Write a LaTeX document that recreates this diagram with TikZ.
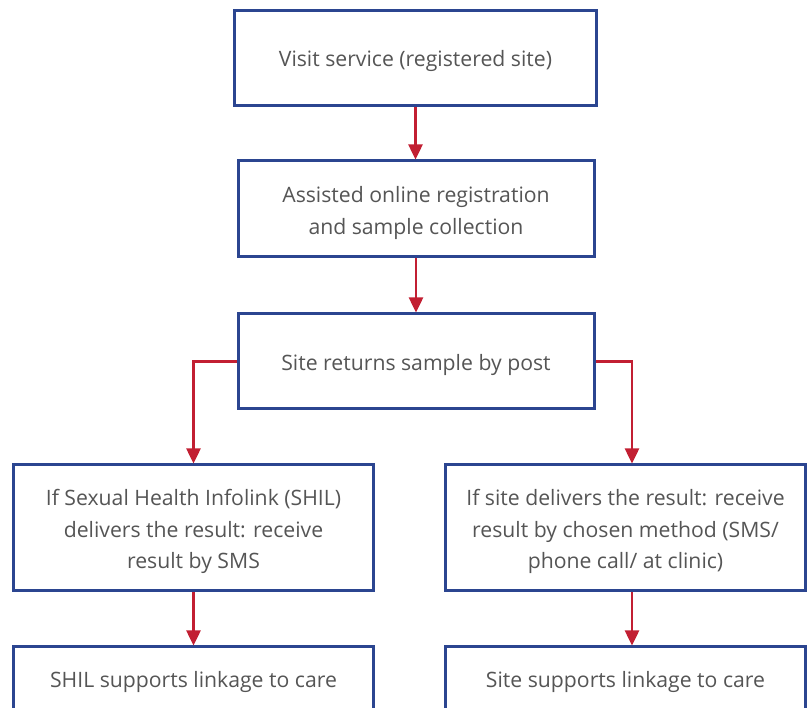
\documentclass[tikz,border=0pt]{standalone}
\usepackage{fontspec}
\setmainfont{Open Sans}
\usetikzlibrary{arrows.meta}
\definecolor{boxblue}{HTML}{2B4590}
\definecolor{arrred}{HTML}{C21F32}
\definecolor{txt}{HTML}{555555}
\begin{document}
\begin{tikzpicture}[x=1pt,y=-1pt,
  box/.style={draw=boxblue,line width=3pt,fill=white,inner sep=0pt},
  lbl/.style={text=txt,align=center,inner sep=0pt,font=\fontsize{21.2}{31.5}\selectfont},
  flow/.style={draw=arrred,line width=2.5pt,-{Triangle[length=15pt,width=14pt]}}]
\useasboundingbox (0,0) rectangle (807,708);
\node[box,minimum width=362pt,minimum height=95pt] (b1) at (415.5,58) {};
\node[box,minimum width=356pt,minimum height=96pt] (b2) at (416,209) {};
\node[box,minimum width=356pt,minimum height=95pt] (b3) at (416,361.5) {};
\node[box,minimum width=360pt,minimum height=126pt] (b4) at (193.5,528) {};
\node[box,minimum width=360pt,minimum height=126pt] (b5) at (625.5,528) {};
\node[box,minimum width=360pt,minimum height=68pt] (b6) at (193.5,681) {};
\node[box,minimum width=360pt,minimum height=68pt] (b7) at (625.5,681) {};
\node[lbl] (t1) at ([yshift=-3pt]b1.center) {Visit service (registered site)};
\node[lbl] (t2) at ([yshift=-4pt]b2.center) {Assisted online registration\\and sample collection};
\node[lbl] (t3) at ([yshift=-3pt]b3.center) {Site returns sample by post};
\node[lbl] (t4) at ([yshift=-3.5pt]b4.center) {If Sexual Health Infolink (SHIL)\\delivers the result: receive\\result by SMS};
\node[lbl] (t5) at ([yshift=-3.5pt]b5.center) {If site delivers the result: receive\\result by chosen method (SMS/\\phone call/ at clinic)};
\node[lbl] (t6) at ([yshift=-1pt]b6.center) {SHIL supports linkage to care};
\node[lbl] (t7) at ([yshift=-1pt]b7.center) {Site supports linkage to care};
\coordinate (r1) at ([xshift=6.5pt]b5.north);
\coordinate (r2) at ([xshift=6.5pt]b5.south);
\coordinate (r3) at ([xshift=6.5pt]b7.north);
\draw[flow] (b1.south) -- (b1.south |- b2.north);
\draw[flow] (b2.south) -- (b3.north);
\draw[flow] (b3.west) -| (b4.north);
\draw[flow] (b3.east) -| (r1);
\draw[flow] (b4.south) -- (b6.north);
\draw[flow] (r2) -- (r3);
\end{tikzpicture}
\end{document}
